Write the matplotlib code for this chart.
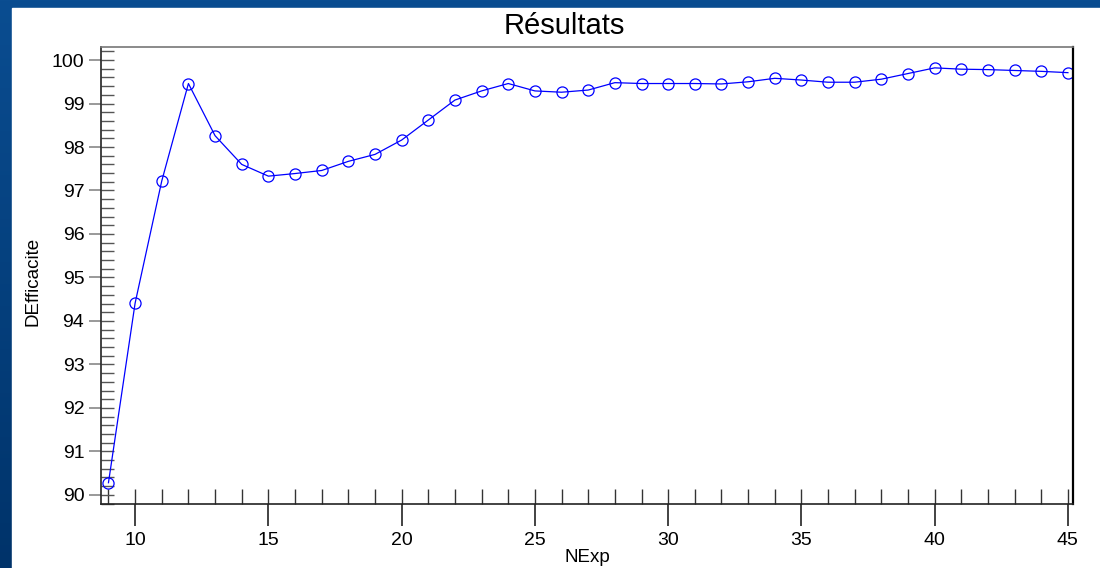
import numpy as np
import matplotlib
matplotlib.use("Agg")
import matplotlib.pyplot as plt
from matplotlib.ticker import MultipleLocator
from matplotlib.patches import Rectangle

plt.rcParams['font.family'] = ['Liberation Sans', 'DejaVu Sans']

# data
nexp = [9, 10, 11, 12, 13, 14, 15, 16, 17, 18, 19, 20, 21, 22, 23, 24, 25, 26, 27,
        28, 29, 30, 31, 32, 33, 34, 35, 36, 37, 38, 39, 40, 41, 42, 43, 44, 45]
defficacite = [90.28, 94.41, 97.22, 99.46, 98.26, 97.60, 97.33, 97.39, 97.46, 97.67,
               97.83, 98.16, 98.62, 99.08, 99.29, 99.46, 99.29, 99.26, 99.31,
               99.48, 99.46, 99.46, 99.46, 99.45, 99.50, 99.58, 99.54, 99.49, 99.49,
               99.56, 99.69, 99.82, 99.79, 99.78, 99.76, 99.74, 99.71]
title = "Résultats"
xlabel = "NExp"
ylabel = "DEfficacite"

fig = plt.figure(figsize=(11, 5.68), dpi=100)

# blue gradient frame
bg = fig.add_axes([0, 0, 1, 1], zorder=-10)
grad = np.linspace(0, 1, 256).reshape(-1, 1)
bg.imshow(grad, aspect='auto', extent=[0, 1, 0, 1], origin='upper',
          cmap=matplotlib.colors.LinearSegmentedColormap.from_list(
              'frame', ['#0a4d91', '#00336a']))
bg.add_patch(Rectangle((12 / 1100, 0), 1, 1 - 8 / 568, color='white'))
bg.set_xlim(0, 1)
bg.set_ylim(0, 1)
bg.axis('off')

ax = fig.add_axes([101 / 1100, 64 / 568, 972 / 1100, 457 / 568])
ax.plot(nexp, defficacite, color='blue', lw=0.9, marker='o', markersize=8,
        markerfacecolor='none', markeredgecolor='blue', markeredgewidth=0.9)

ax.set_xlim(8.72, 45.19)
ax.set_ylim(89.79, 100.3)

ax.xaxis.set_major_locator(MultipleLocator(5))
ax.xaxis.set_minor_locator(MultipleLocator(1))
ax.yaxis.set_major_locator(MultipleLocator(1))
ax.yaxis.set_minor_locator(MultipleLocator(0.2))
ax.xaxis.remove_overlapping_locs = False
ax.yaxis.remove_overlapping_locs = False

ax.tick_params(axis='x', which='major', direction='out', length=16, width=1.2,
               color='#222222', labelsize=14, pad=4)
ax.tick_params(axis='x', which='minor', direction='in', length=11, width=1,
               color='#333333')
ax.tick_params(axis='y', which='major', direction='out', length=9, width=1.2,
               color='#888888', labelsize=14, pad=3)
ax.tick_params(axis='y', which='minor', direction='in', length=9, width=1,
               color='#555555')

for side in ['left', 'bottom']:
    ax.spines[side].set_color('#222222')
    ax.spines[side].set_linewidth(1.2)
ax.spines['top'].set_color('#777777')
ax.spines['top'].set_linewidth(1.2)
ax.spines['right'].set_color('black')
ax.spines['right'].set_linewidth(1.6)

ax.set_xlabel(xlabel, fontsize=13.5)
ax.xaxis.set_label_coords(0.5, -0.098)
ax.set_ylabel(ylabel, fontsize=13.5)
ax.yaxis.set_label_coords(-0.061, 0.486)
fig.text(0.513, 1 - 34.5 / 568, title, fontsize=21, ha='center', va='baseline')

fig.savefig('out.png', dpi=100)
